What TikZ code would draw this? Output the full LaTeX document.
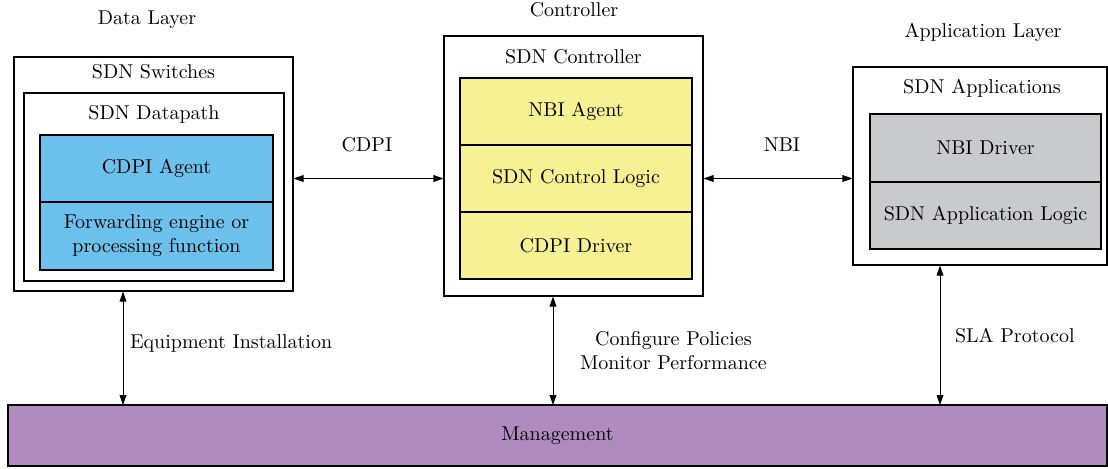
\documentclass[tikz,border=0pt]{standalone}
\usepackage{xcolor}
\usetikzlibrary{arrows.meta,positioning}

\definecolor{agentblue}{HTML}{6CC1EC}
\definecolor{ctlyellow}{HTML}{F6F193}
\definecolor{appgray}{HTML}{C9CACB}
\definecolor{mgmtpurple}{HTML}{B08BC0}

\begin{document}
\begin{tikzpicture}[x=0.5pt, y=-0.5pt, >={Triangle[length=5pt,width=3.4pt]},
        frame/.style={draw, line width=0.55pt, inner sep=0pt},
        cell/.style={draw, line width=0.55pt, inner sep=0pt, outer sep=0pt, align=center},
        lbl/.style={align=center}]
        \useasboundingbox (0,0) rectangle (1108,468);

        % outer frames
        \node[frame, minimum width=139.5pt, minimum height=117pt] (switches) at (153.5,174) {};
        \node[frame, minimum width=130pt, minimum height=94pt] (datapath) at (154,187) {};
        \node[frame, minimum width=129.5pt, minimum height=130pt] (controller) at (573.5,166) {};
        \node[frame, minimum width=127pt, minimum height=99pt] (apps) at (980,166) {};

        % inner blocks
        \node[cell, fill=agentblue, minimum width=116.5pt, minimum height=33.5pt] (agent) at (156.5,168.5) {CDPI Agent};
        \node[cell, fill=agentblue, minimum width=116.5pt, minimum height=34pt, below=0pt of agent] (fwd) {Forwarding engine or\\processing function};

        \node[cell, fill=ctlyellow, minimum width=116pt, minimum height=33.5pt] (nbiagent) at (576,111.5) {NBI Agent};
        \node[cell, fill=ctlyellow, minimum width=116pt, minimum height=33.5pt, below=0pt of nbiagent] (ctllogic) {SDN Control Logic};
        \node[cell, fill=ctlyellow, minimum width=116pt, minimum height=33.5pt, below=0pt of ctllogic] (cdpidriver) {CDPI Driver};

        \node[cell, fill=appgray, minimum width=115.5pt, minimum height=34pt] (nbidriver) at (985.5,148) {NBI Driver};
        \node[cell, fill=appgray, minimum width=115.5pt, minimum height=33.5pt, below=0pt of nbidriver] (applogic) {SDN Application Logic};

        \node[cell, fill=mgmtpurple, minimum width=549.5pt, minimum height=30.5pt] (mgmt) at (557.5,435.5) {Management};

        % titles
        \node[lbl] (datalayer) at (147,20) {Data Layer};
        \node[lbl] (ctltitle) at (574,10) {Controller};
        \node[lbl] (applayer) at (983,32) {Application Layer};
        \node[lbl] (switcheslbl) at (153.5,72) {SDN Switches};
        \node[lbl] (datapathlbl) at (154,114) {SDN Datapath};
        \node[lbl] (controllerlbl) at (573.5,57) {SDN Controller};
        \node[lbl] (appslbl) at (982,88) {SDN Applications};
        \node[lbl] (cdpilbl) at (367,145) {CDPI};
        \node[lbl] (nbilbl) at (782,145) {NBI};

        % interfaces
        \draw[<->] (switches.east |- ctllogic) -- (controller.west |- ctllogic);
        \draw[<->] (controller.east |- ctllogic) -- (apps.west |- ctllogic);

        \draw[<->] ([xshift=-15.25pt]switches.south) -- ([xshift=-15.25pt]switches.south |- mgmt.north)
            node[midway, right, yshift=2.5pt]{Equipment Installation};
        \draw[<->] ([xshift=-10.25pt]controller.south) -- ([xshift=-10.25pt]controller.south |- mgmt.north)
            node[midway, right=10pt, align=center]{Configure Policies\\Monitor Performance};
        \draw[<->] ([xshift=-20pt]apps.south) -- ([xshift=-20pt]apps.south |- mgmt.north)
            node[midway, right=4pt]{SLA Protocol};
    \end{tikzpicture}
\end{document}
